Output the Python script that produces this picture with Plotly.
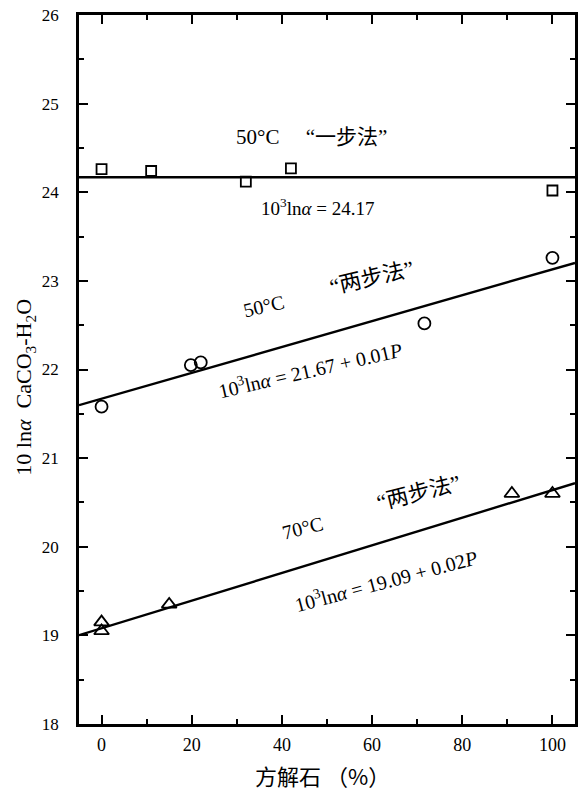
import plotly.graph_objects as go

# ---- data ----
sq_x = [0, 11, 32, 42, 100]
sq_y = [24.26, 24.24, 24.12, 24.27, 24.02]

ci_x = [0, 19.8, 22, 71.6, 100]
ci_y = [21.58, 22.05, 22.08, 22.52, 23.26]

tr_x = [0, 0, 15, 91, 100]
tr_y = [19.15, 19.05, 19.35, 20.60, 20.60]

line_x = [-5, 105]
fit1 = (24.17, 0.0)       # intercept, slope (one-step, 50C)
fit2 = (21.67, 0.0146)    # two-step, 50C (as drawn)
fit3 = (19.08, 0.0156)    # two-step, 70C (as drawn)

x_ticks = [0, 20, 40, 60, 80, 100]
y_ticks = [18, 19, 20, 21, 22, 23, 24, 25, 26]

SERIF = "Liberation Serif, Noto Sans CJK SC"
CJK = "Noto Sans CJK SC, Liberation Serif"

fig = go.Figure()

for (b, m) in (fit1, fit2, fit3):
    fig.add_trace(go.Scatter(x=line_x, y=[b + m * v for v in line_x], mode="lines",
                             line=dict(color="black", width=2.4), hoverinfo="skip"))

fig.add_trace(go.Scatter(x=sq_x, y=sq_y, mode="markers",
                         marker=dict(symbol="square-open", size=10, color="black", line=dict(width=1.8))))
fig.add_trace(go.Scatter(x=ci_x, y=ci_y, mode="markers",
                         marker=dict(symbol="circle-open", size=12, color="black", line=dict(width=1.8))))
fig.add_trace(go.Scatter(x=tr_x, y=tr_y, mode="markers",
                         marker=dict(symbol="triangle-up-open", size=13, color="black", line=dict(width=1.8))))

ann = []
def A(x, y, t, size=16, ang=0, fam=SERIF):
    ann.append(dict(x=x, y=y, xref="x", yref="y", text=t, showarrow=False,
                    textangle=ang, font=dict(family=fam, size=size, color="black")))

A(46.5, 24.62, "50°C　 “一步法”", 21)
A(48.0, 23.83, "10<sup>3</sup>ln<i>α</i> = 24.17", 19)
A(36.0, 22.72, "50°C", 20, -13)
A(60.0, 23.04, "“两步法”", 22, -13)
A(46.3, 22.01, "10<sup>3</sup>ln<i>α</i> = 21.67 + 0.01<i>P</i>", 20, -13)
A(44.5, 20.21, "70°C", 20, -14)
A(70.5, 20.61, "“两步法”", 22, -14)
A(63.0, 19.62, "10<sup>3</sup>ln<i>α</i> = 19.09 + 0.02<i>P</i>", 20, -15)

ann.append(dict(x=-0.108, y=0.475, xref="paper", yref="paper", showarrow=False, textangle=-90,
                xanchor="center", yanchor="middle",
                text="10 ln<i>α</i>  CaCO<sub>3</sub>-H<sub>2</sub>O",
                font=dict(family=SERIF, size=22, color="black")))
ann.append(dict(x=0.49, y=-0.072, xref="paper", yref="paper", showarrow=False,
                xanchor="center", yanchor="middle",
                text="方解石 （%）", font=dict(family=CJK, size=22, color="black")))

fig.update_layout(
    width=584, height=794,
    margin=dict(l=79, r=6, t=14, b=70),
    paper_bgcolor="white", plot_bgcolor="white",
    showlegend=False,
    annotations=ann,
)
fig.update_xaxes(range=[-5, 105], tickvals=x_ticks, ticks="inside", ticklen=9, tickwidth=2,
                 minor=dict(dtick=10, ticks="inside", ticklen=5, tickwidth=1.5, tickcolor="black"),
                 showline=True, linecolor="black", linewidth=2.5, mirror="ticks",
                 showgrid=False, zeroline=False, tickcolor="black", ticklabelstandoff=3,
                 tickfont=dict(family=SERIF, size=18, color="black"))
fig.update_yaxes(range=[18, 26], tickvals=y_ticks, ticks="inside", ticklen=9, tickwidth=2,
                 minor=dict(dtick=0.5, ticks="inside", ticklen=5, tickwidth=1.5, tickcolor="black"),
                 showline=True, linecolor="black", linewidth=2.5, mirror="ticks",
                 showgrid=False, zeroline=False, tickcolor="black", ticklabelstandoff=14,
                 tickfont=dict(family=SERIF, size=17, color="black"))

fig.write_html("out.html", config={"displayModeBar": False})

with open("out.html", "r", encoding="utf-8") as f:
    html = f.read()
html = html.replace("<body>", "<body style=\"margin:0;overflow:hidden\">", 1)
with open("out.html", "w", encoding="utf-8") as f:
    f.write(html)
